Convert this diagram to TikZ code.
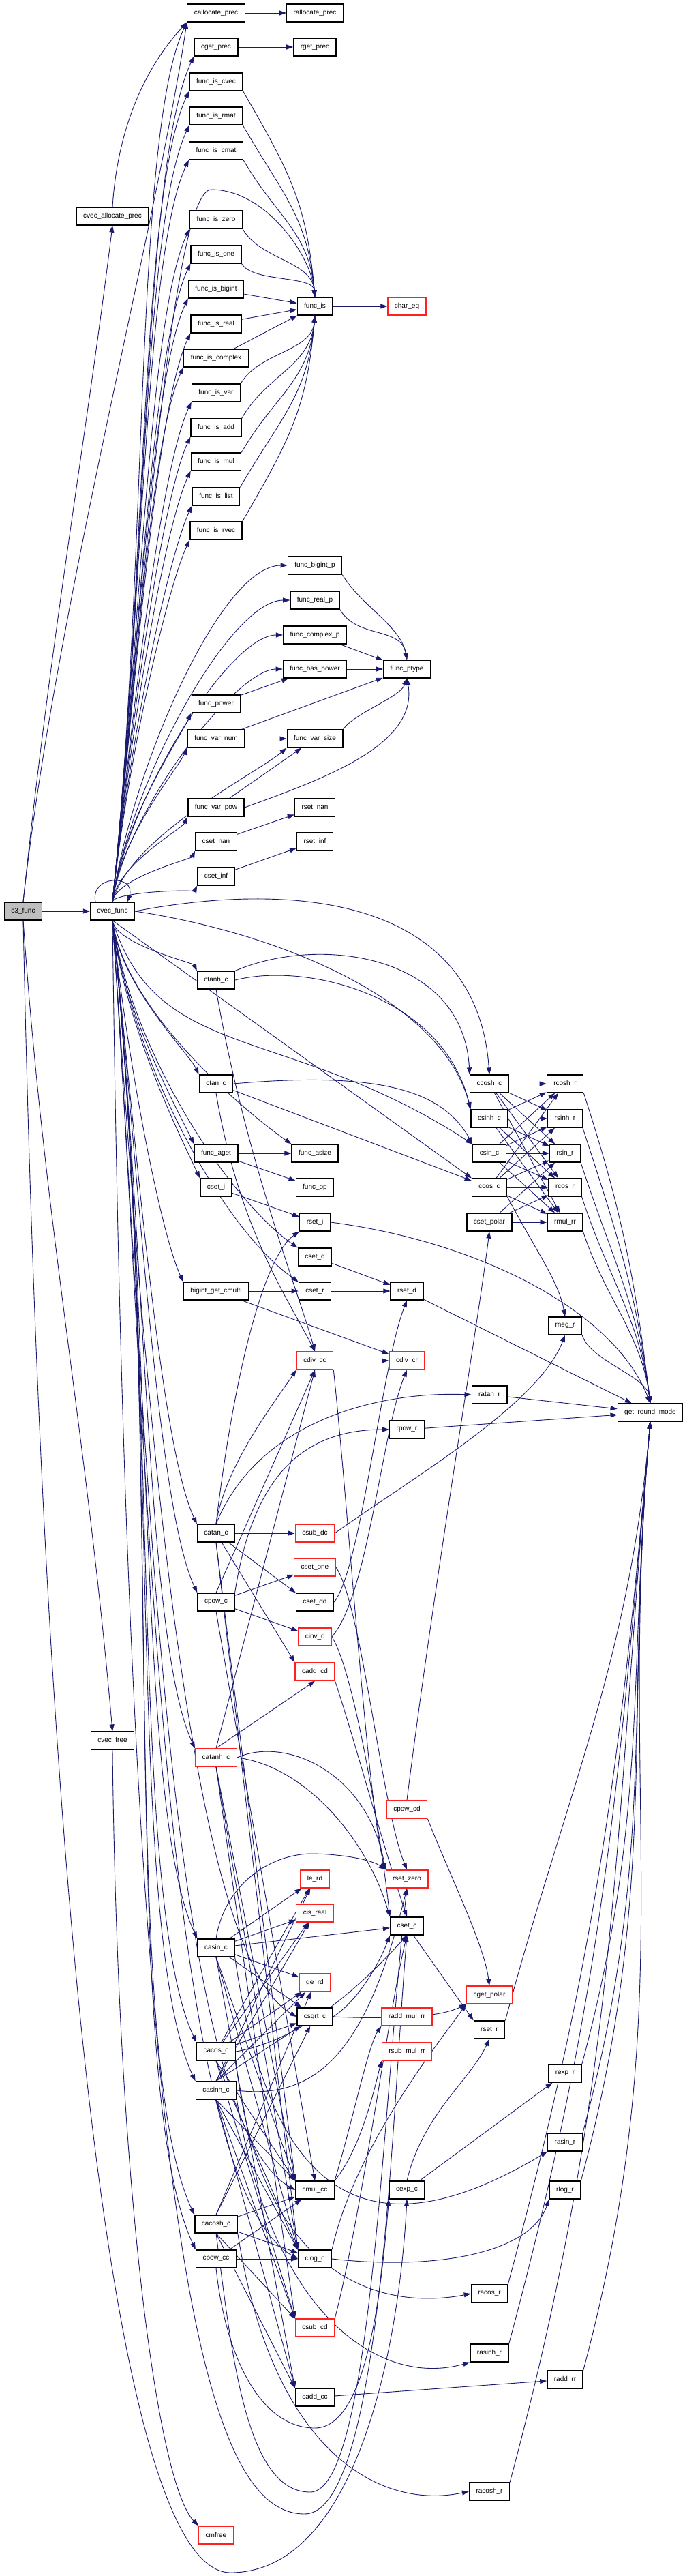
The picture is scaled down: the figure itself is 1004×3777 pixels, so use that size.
\documentclass[tikz,border=0pt]{standalone}
\usepackage{fontspec}
\setmainfont{Liberation Sans}
\usetikzlibrary{arrows.meta}
\definecolor{eblue}{HTML}{191970}
\definecolor{ngray}{HTML}{BFBFBF}
\definecolor{nred}{HTML}{FF2020}
\pgfdeclarelayer{bgl}
\pgfdeclarelayer{edgel}
\pgfsetlayers{bgl,edgel,main}
\begin{document}
\begin{tikzpicture}[x=1pt,y=1pt,
 nd/.style={draw=black,line width=1.3pt,fill=white,minimum height=26pt,inner xsep=10pt,inner ysep=0pt,font=\fontsize{10}{12}\selectfont},
 rn/.style={nd,draw=nred},
 cl/.style={draw=eblue,line width=0.9pt,-{Triangle[length=10pt,width=7pt]}}]
\begin{pgfonlayer}{bgl}
\fill[white] (0,0) rectangle (1004,-3777);
\end{pgfonlayer}
\useasboundingbox (0,0) rectangle (1004,-3777);
% column A/B
\node[nd,fill=ngray] (c3) at (34,-1336) {c3\_func};
\node[nd] (cvecallocprec) at (165,-317) {cvec\_allocate\_prec};
\node[nd] (cvecfunc) at (165,-1336) {cvec\_func};
\node[nd] (cvecfree) at (165,-2552) {cvec\_free};
% column C
\node[nd] (callocprec) at (317,-19) {callocate\_prec};
\node[nd] (cgetprec) at (317,-69) {cget\_prec};
\node[nd] (fiscvec) at (317,-120) {func\_is\_cvec};
\node[nd] (fisrmat) at (317,-170) {func\_is\_rmat};
\node[nd] (fiscmat) at (317,-221) {func\_is\_cmat};
\node[nd] (fiszero) at (317,-322) {func\_is\_zero};
\node[nd] (fisone) at (317,-373) {func\_is\_one};
\node[nd] (fisbigint) at (317,-424) {func\_is\_bigint};
\node[nd] (fisreal) at (317,-475) {func\_is\_real};
\node[nd] (fiscomplex) at (317,-525) {func\_is\_complex};
\node[nd] (fisvar) at (317,-576) {func\_is\_var};
\node[nd] (fisadd) at (317,-627) {func\_is\_add};
\node[nd] (fismul) at (317,-677) {func\_is\_mul};
\node[nd] (fislist) at (317,-728) {func\_is\_list};
\node[nd] (fisrvec) at (317,-778) {func\_is\_rvec};
\node[nd] (funcpower) at (317,-1032) {func\_power};
\node[nd] (funcvarnum) at (317,-1083) {func\_var\_num};
\node[nd] (funcvarpow) at (317,-1184) {func\_var\_pow};
\node[nd] (csetnan) at (317,-1234) {cset\_nan};
\node[nd] (csetinf) at (317,-1285) {cset\_inf};
\node[nd] (ctanh) at (317,-1437) {ctanh\_c};
\node[nd] (ctan) at (317,-1589) {ctan\_c};
\node[nd] (funcaget) at (317,-1691) {func\_aget};
\node[nd] (cseti) at (317,-1741) {cset\_i};
\node[nd] (bigint) at (317,-1893) {bigint\_get\_cmulti};
\node[nd] (catan) at (317,-2248) {catan\_c};
\node[nd] (cpowc) at (317,-2349) {cpow\_c};
\node[rn] (catanh) at (317,-2577) {catanh\_c};
\node[nd] (casin) at (317,-2856) {casin\_c};
\node[nd] (cacos) at (317,-3008) {cacos\_c};
\node[nd] (casinh) at (317,-3065) {casinh\_c};
\node[nd] (cacosh) at (317,-3261) {cacosh\_c};
\node[nd] (cpowcc) at (317,-3312) {cpow\_cc};
\node[rn] (cmfree) at (317,-3717) {cmfree};
% column D
\node[nd] (rallocprec) at (462,-19) {rallocate\_prec};
\node[nd] (rgetprec) at (462,-69) {rget\_prec};
\node[nd] (funcis) at (462,-449) {func\_is};
\node[nd] (funcbigintp) at (462,-829) {func\_bigint\_p};
\node[nd] (funcrealp) at (462,-880) {func\_real\_p};
\node[nd] (funccomplexp) at (462,-931) {func\_complex\_p};
\node[nd] (funchaspower) at (462,-981) {func\_has\_power};
\node[nd] (funcvarsize) at (462,-1083) {func\_var\_size};
\node[nd] (rsetnan) at (462,-1184) {rset\_nan};
\node[nd] (rsetinf) at (462,-1234) {rset\_inf};
\node[nd] (funcasize) at (462,-1691) {func\_asize};
\node[nd] (funcop) at (462,-1741) {func\_op};
\node[nd] (rseti) at (462,-1792) {rset\_i};
\node[nd] (csetd) at (462,-1843) {cset\_d};
\node[nd] (csetr) at (462,-1893) {cset\_r};
\node[rn] (cdivcc) at (462,-1995) {cdiv\_cc};
\node[rn] (csubdc) at (462,-2248) {csub\_dc};
\node[rn] (csetone) at (462,-2298) {cset\_one};
\node[nd] (csetdd) at (462,-2349) {cset\_dd};
\node[rn] (cinvc) at (462,-2400) {cinv\_c};
\node[rn] (caddcd) at (462,-2451) {cadd\_cd};
\node[rn] (lerd) at (462,-2755) {le\_rd};
\node[rn] (cisreal) at (462,-2805) {cis\_real};
\node[rn] (gerd) at (462,-2907) {ge\_rd};
\node[nd] (csqrt) at (462,-2957) {csqrt\_c};
\node[nd] (cmulcc) at (462,-3211) {cmul\_cc};
\node[nd] (clogc) at (462,-3312) {clog\_c};
\node[rn] (csubcd) at (462,-3413) {csub\_cd};
\node[nd] (caddcc) at (462,-3515) {cadd\_cc};
% column E
\node[rn] (chareq) at (597,-449) {char\_eq};
\node[nd] (funcptype) at (597,-981) {func\_ptype};
\node[nd] (rsetd) at (597,-1893) {rset\_d};
\node[rn] (cdivcr) at (597,-1995) {cdiv\_cr};
\node[nd] (rpowr) at (597,-2096) {rpow\_r};
\node[rn] (cpowcd) at (597,-2653) {cpow\_cd};
\node[rn] (rsetzero) at (597,-2755) {rset\_zero};
\node[nd] (csetc) at (597,-2824) {cset\_c};
\node[rn] (raddmulrr) at (597,-2957) {radd\_mul\_rr};
\node[rn] (rsubmulrr) at (597,-3008) {rsub\_mul\_rr};
\node[nd] (cexpc) at (597,-3211) {cexp\_c};
% column F
\node[nd] (ccosh) at (718,-1589) {ccosh\_c};
\node[nd] (csinh) at (718,-1640) {csinh\_c};
\node[nd] (csin) at (718,-1691) {csin\_c};
\node[nd] (ccos) at (718,-1741) {ccos\_c};
\node[nd] (csetpolar) at (718,-1792) {cset\_polar};
\node[nd] (ratan) at (718,-2045) {ratan\_r};
\node[rn] (cgetpolar) at (718,-2925) {cget\_polar};
\node[nd] (rsetr) at (718,-2976) {rset\_r};
\node[nd] (racos) at (718,-3363) {racos\_r};
\node[nd] (rasinh) at (718,-3450) {rasinh\_r};
\node[nd] (racosh) at (718,-3653) {racosh\_r};
% column G
\node[nd] (rcosh) at (829,-1589) {rcosh\_r};
\node[nd] (rsinh) at (829,-1640) {rsinh\_r};
\node[nd] (rsin) at (829,-1691) {rsin\_r};
\node[nd] (rcos) at (829,-1741) {rcos\_r};
\node[nd] (rmul) at (829,-1792) {rmul\_rr};
\node[nd] (rneg) at (829,-1944) {rneg\_r};
\node[nd] (rexp) at (829,-3040) {rexp\_r};
\node[nd] (rasin) at (829,-3141) {rasin\_r};
\node[nd] (rlog) at (829,-3211) {rlog\_r};
\node[nd] (raddrr) at (829,-3489) {radd\_rr};
% column H
\node[nd] (grm) at (954,-2071) {get\_round\_mode};

\begin{pgfonlayer}{edgel}
% ---- edges: top part
\draw[cl] (c3) -- (cvecfunc);
\draw[cl] (c3.north) .. controls +(84:400) and +(-97:300) .. (cvecallocprec.south);
\draw[cl] (c3.north) .. controls (80,-900) and (230,-330) .. (callocprec.south west);
\draw[cl] (cvecallocprec.north) .. controls (175,-150) and (240,-70) .. (callocprec.south west);
\draw[cl] (callocprec) -- (rallocprec);
\draw[cl] (cgetprec) -- (rgetprec);
\draw[cl] (c3.south) .. controls +(-86:450) and +(95:450) .. (cvecfree.north);
\draw[cl] (cvecfree.south) .. controls (172,-3200) and (230,-3640) .. (cmfree.north west);
\draw[cl] (c3.south) .. controls (60,-2600) and (150,-3772) .. (338,-3772) .. controls (520,-3772) and (585,-3450) .. (cexpc.south);
\draw[cl] ([xshift=-25pt]cvecfunc.north) .. controls (132,-1282) and (200,-1282) .. ([xshift=22pt]cvecfunc.north);

\foreach \t/\y in {callocprec/19,cgetprec/69,fiscvec/120,fisrmat/170,fiscmat/221,fiszero/322,fisone/373,fisbigint/424,fisreal/475,fiscomplex/525,fisvar/576,fisadd/627,fismul/677,fislist/728,fisrvec/778,funcpower/1032,funcvarnum/1083,funcvarpow/1184,csetnan/1234,csetinf/1285}{
  \pgfmathsetmacro\dd{0.39*(1323-\y)}
  \pgfmathsetmacro\ee{0.14*(1323-\y)}
  \draw[cl] (cvecfunc.north) .. controls +(84:\dd) and +(-115:\ee) .. (\t.south west);
}
\draw[cl] (cvecfunc.north) .. controls +(84:400) and +(180:60) .. (310,-278) .. controls +(0:80) and +(95:60) .. (funcis.north);
\foreach \t/\y in {funcbigintp/829,funcrealp/880,funccomplexp/931,funchaspower/981}{
  \pgfmathsetmacro\dd{0.39*(1323-\y)}
  \pgfmathsetmacro\ee{0.2*(1323-\y)}
  \draw[cl] (cvecfunc.north) .. controls +(82:\dd) and +(180:\ee) .. (\t.west);
}
\draw[cl] (cvecfunc.north) .. controls +(75:100) and +(-140:60) .. (funcvarsize.south west);

\foreach \t/\y in {fiscvec/120,fisrmat/170,fiscmat/221,fiszero/322,fisone/373}{
  \pgfmathsetmacro\dd{0.42*(449-\y)}
  \draw[cl] (\t.south east) .. controls +(-60:\dd) and +(95:\dd) .. (funcis.north);
}
\foreach \t in {fisbigint,fisreal,fiscomplex}
  \draw[cl] (\t) -- (funcis);
\foreach \t/\y in {fisvar/576,fisadd/627,fismul/677,fislist/728,fisrvec/778}{
  \pgfmathsetmacro\dd{0.42*(\y-449)}
  \draw[cl] (\t.north east) .. controls +(60:\dd) and +(-95:\dd) .. (funcis.south);
}
\draw[cl] (funcis) -- (chareq);

\foreach \t in {funcbigintp,funcrealp}
  \draw[cl] (\t.south east) .. controls +(-60:50) and +(100:50) .. (funcptype.north);
\draw[cl] (funccomplexp) -- (funcptype);
\draw[cl] (funchaspower) -- (funcptype);
\draw[cl] (funcpower) -- (funchaspower);
\draw[cl] (funcvarnum) -- (funcvarsize);
\draw[cl] (funcvarnum) -- (funcptype);
\draw[cl] (funcvarsize.north east) .. controls +(55:30) and +(-110:30) .. (funcptype.south);
\draw[cl] (funcvarpow) -- (funcvarsize);
\draw[cl] (funcvarpow.east) .. controls +(20:120) and +(-80:100) .. (funcptype.south);
\draw[cl] (csetnan) -- (rsetnan);
\draw[cl] (csetinf) -- (rsetinf);

% ---- cvec_func downward
\foreach \t/\y in {ctanh/1437,ctan/1589,funcaget/1691,cseti/1741,bigint/1893,catan/2248,cpowc/2349,catanh/2577,casin/2856,cacos/3008,casinh/3065,cacosh/3261,cpowcc/3312}{
  \pgfmathsetmacro\dd{0.39*(\y-1349)}
  \pgfmathsetmacro\ee{0.14*(\y-1349)}
  \draw[cl] (cvecfunc.south) .. controls +(-84:\dd) and +(115:\ee) .. (\t.north west);
}
\foreach \t/\y in {funcasize/1691,csetd/1843,csetr/1893}{
  \pgfmathsetmacro\dd{0.39*(\y-1349)}
  \pgfmathsetmacro\ee{0.25*(\y-1349)}
  \draw[cl] (cvecfunc.south) .. controls +(-82:\dd) and +(145:\ee) .. (\t.north west);
}
\foreach \t/\y in {csqrt/2957,cmulcc/3211,clogc/3312}{
  \pgfmathsetmacro\dd{0.39*(\y-1349)}
  \pgfmathsetmacro\ee{0.12*(\y-1349)}
  \draw[cl] (cvecfunc.south) .. controls +(-86:\dd) and +(150:\ee) .. (\t.west);
}
\draw[cl] (cvecfunc.east) .. controls (440,-1290) and (700,-1320) .. (ccosh.north);
\draw[cl] (cvecfunc.east) .. controls (420,-1370) and (650,-1470) .. (csinh.north west);
\draw[cl] (cvecfunc.south) .. controls (230,-1560) and (420,-1500) .. (csin.north west);
\draw[cl] (cvecfunc.south) -- (ccos.north west);
\draw[cl] (cvecfunc.south) .. controls (190,-3300) and (300,-3686) .. (447,-3686) .. controls (560,-3686) and (575,-3100) .. (csetc.south);

% ---- trig
\draw[cl] (ctanh.north east) .. controls (470,-1370) and (680,-1400) .. (ccosh.north west);
\draw[cl] (ctanh.east) .. controls (450,-1410) and (650,-1460) .. (csinh.north west);
\draw[cl] (ctan.east) .. controls (560,-1570) and (650,-1600) .. (csin.north west);
\draw[cl] (ctan) -- (ccos);
\draw[cl] (ctanh.south) .. controls (360,-1700) and (440,-1900) .. (cdivcc.north);
\draw[cl] (ctan.south) .. controls (350,-1800) and (420,-1900) .. (cdivcc.north);
\foreach \s in {ccosh,csinh,csin,ccos}
  \foreach \t in {rcosh,rsinh,rsin,rcos,rmul}
    \draw[cl] (\s) -- (\t);
\foreach \t in {rsin,rcos,rmul}
  \draw[cl] (csetpolar) -- (\t);
\draw[cl] (ccos.south east) .. controls (790,-1840) and (820,-1880) .. (rneg.north);
\foreach \t/\y in {rcosh/1602,rsinh/1653,rsin/1704,rcos/1754,rmul/1805,rneg/1957}{
  \pgfmathsetmacro\dd{0.4*(2058-\y)}
  \draw[cl] (\t.south east) .. controls +(-72:\dd) and +(97:\dd) .. (grm.north);
}
\draw[cl] (rseti.east) .. controls (700,-1820) and (900,-1920) .. (grm.north);
\draw[cl] (rsetd) -- (grm);
\draw[cl] (ratan) -- (grm);
\draw[cl] (rpowr) -- (grm);
\foreach \t/\y in {rsetr/2963,rexp/3027,rasin/3128,rlog/3198,raddrr/3476,racos/3350,rasinh/3437,racosh/3640}{
  \pgfmathsetmacro\dd{0.4*(\y-2084)}
  \draw[cl] (\t.north east) .. controls +(75:\dd) and +(-95:\dd) .. (grm.south);
}

% ---- middle
\draw[cl] (funcaget) -- (funcasize);
\draw[cl] (funcaget) -- (funcop);
\draw[cl] (cseti) -- (rseti);
\draw[cl] (csetd) -- (rsetd);
\draw[cl] (bigint) -- (csetr);
\draw[cl] (csetr) -- (rsetd);
\draw[cl] (bigint) -- (cdivcr);
\draw[cl] (cdivcc) -- (cdivcr);
\draw[cl] (cdivcc.south east) .. controls (510,-2200) and (540,-2650) .. (rsetzero.north west);

% ---- catan / cpow
\draw[cl] (catan) -- (csubdc);
\draw[cl] (catan.north) .. controls (330,-2150) and (400,-2060) .. (cdivcc.south west);
\draw[cl] (catan.north) .. controls (380,-2080) and (560,-2040) .. (ratan.west);
\draw[cl] (catan.north) .. controls (345,-2000) and (390,-1840) .. (rseti.south west);
\draw[cl] (catan) -- (csetdd.north west);
\draw[cl] (catan) -- (caddcd.north west);
\draw[cl] (catan.south) -- (cmulcc.north west);
\draw[cl] (catan.south) -- (clogc.north west);
\draw[cl] (csubdc.east) .. controls (600,-2170) and (790,-2060) .. (rneg.south);
\draw[cl] (cpowc) -- (csetone);
\draw[cl] (cpowc) -- (cinvc);
\draw[cl] (cpowc.north east) .. controls (370,-2170) and (440,-2096) .. (rpowr.west);
\draw[cl] (cpowc.south) -- (cmulcc.north);
\draw[cl] (cpowc.north) -- (cdivcc.south);
\draw[cl] (csetdd.east) .. controls (530,-2300) and (560,-2000) .. (rsetd.south);
\draw[cl] (csetone.east) .. controls (530,-2350) and (560,-2650) .. (rsetzero.north);
\draw[cl] (cinvc.east) .. controls (540,-2340) and (560,-2100) .. (cdivcr.south);
\draw[cl] (cinvc.east) .. controls (520,-2450) and (560,-2700) .. (csetc.north west);
\draw[cl] (caddcd.south east) .. controls (520,-2550) and (560,-2700) .. (csetc.north);

% ---- catanh
\draw[cl] (catanh.north) -- (caddcd.south);
\draw[cl] (catanh.north) -- (cdivcc.south);
\draw[cl] (catanh.east) .. controls (420,-2545) and (540,-2600) .. (rsetzero.north west);
\draw[cl] (catanh.east) .. controls (450,-2590) and (540,-2700) .. (csetc.north west);
\draw[cl] (catanh.south) -- (cmulcc.north west);
\draw[cl] (catanh.south) -- (clogc.north west);
\draw[cl] (catanh.south) -- (csubcd.north west);

% ---- casin
\foreach \t in {lerd,cisreal,gerd,csqrt,csetc}
  \draw[cl] (casin) -- (\t);
\draw[cl] (casin.north) .. controls (330,-2760) and (400,-2716) .. (463,-2718) .. controls (520,-2720) and (550,-2730) .. (rsetzero.north west);
\draw[cl] (casin.south east) .. controls (400,-3250) and (560,-3300) .. (rasin.south west);
\foreach \t in {cmulcc,clogc,caddcc}
  \draw[cl] (casin.south) -- (\t.north west);

% ---- cacos
\foreach \t in {lerd,cisreal,gerd,csqrt}
  \draw[cl] (cacos) -- (\t);
\draw[cl] (cacos.east) .. controls (450,-2990) and (540,-2900) .. (csetc.south);
\draw[cl] (cacos.south east) .. controls (380,-3330) and (550,-3390) .. (racos.west);
\foreach \t in {cmulcc,clogc,csubcd}
  \draw[cl] (cacos.south) -- (\t.north west);

% ---- casinh
\foreach \t in {lerd,cisreal,gerd,csqrt}
  \draw[cl] (casinh.north) -- (\t);
\draw[cl] (casinh.east) .. controls (470,-3080) and (540,-3000) .. (rsetzero.south);
\draw[cl] (casinh.south east) .. controls (400,-3400) and (560,-3500) .. (rasinh.south west);
\foreach \t in {cmulcc,clogc,caddcc,csubcd}
  \draw[cl] (casinh.south) -- (\t.north west);

% ---- cacosh
\foreach \t in {csqrt,gerd}
  \draw[cl] (cacosh.north) -- (\t);
\draw[cl] (cacosh) -- (cmulcc);
\draw[cl] (cacosh) -- (clogc);
\draw[cl] (cacosh.south east) .. controls (400,-3600) and (560,-3680) .. (racosh.west);
\draw[cl] (cacosh.south) -- (caddcc.north west);
\draw[cl] (cacosh.south) -- (csubcd.north west);
\draw[cl] (cacosh.south) .. controls (340,-3450) and (360,-3654) .. (455,-3654) .. controls (545,-3654) and (560,-3100) .. (rsetzero.south);

% ---- cpow_cc
\draw[cl] (cpowcc) -- (clogc);
\draw[cl] (cpowcc) -- (cmulcc);
\draw[cl] (cpowcc.south) .. controls (330,-3450) and (380,-3560) .. (462,-3560) .. controls (540,-3560) and (560,-3350) .. (cexpc.south west);

% ---- lower right
\draw[cl] (cmulcc.north east) .. controls (520,-3100) and (540,-3000) .. (raddmulrr.south west);
\draw[cl] (cmulcc.north east) .. controls (530,-3150) and (550,-3060) .. (rsubmulrr.south west);
\draw[cl] (cexpc) -- (rexp);
\draw[cl] (cexpc.north) .. controls (620,-3100) and (690,-3050) .. (rsetr.south);
\draw[cl] (cpowcd.north) .. controls (640,-2300) and (700,-1950) .. (csetpolar.south);
\draw[cl] (cpowcd.south east) .. controls (660,-2750) and (710,-2850) .. (cgetpolar.north);
\draw[cl] (csqrt.east) .. controls (530,-2930) and (560,-2870) .. (csetc.south west);
\draw[cl] (csqrt.east) .. controls (560,-2960) and (640,-2960) .. (cgetpolar.south west);
\draw[cl] (clogc.north east) .. controls (520,-3150) and (640,-3000) .. (cgetpolar.south west);
\draw[cl] (csetc) -- (rsetr.north west);
\draw[cl] (csubcd.north east) .. controls (530,-3250) and (570,-2950) .. (csetc.south);
\draw[cl] (caddcc) -- (raddrr);
\draw[cl] (clogc.east) .. controls (650,-3330) and (780,-3300) .. (rlog.south west);
\end{pgfonlayer}
\end{tikzpicture}
\end{document}
